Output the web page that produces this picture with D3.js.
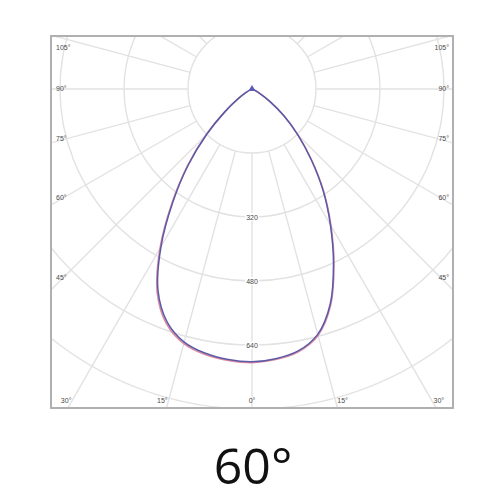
<!DOCTYPE html>
<html><head><meta charset="utf-8">
<script src="https://cdn.jsdelivr.net/npm/d3@7"></script>
<style>body{margin:0;background:#fff}svg{display:block}</style>
</head><body>
<svg id="c" width="500" height="500"></svg>
<script>
// ---- data ----
const gammaAngles = [0,5,10,15,20,25,30,35,40,45,50,55,60,65,70,75,80,85,90];
// C180 side (drawn left) and C0 side (drawn right), cd
const c0c180Left  = [682,679,671,655,620,556,455,345,248,160,88,42,16,5,1,0,0,0,0];
const c0c180Right = [680,677,665,635,572,482,392,310,230,162,104,55,22,7,2,0,0,0,0];
const c90c270Left  = [684,681,674,659,625,561,460,349,251,162,89,43,16,5,1,0,0,0,0];
const c90c270Right = [682,679,667,638,575,485,395,312,232,163,105,55,22,7,2,0,0,0,0];
const ringValues = [160,320,480,640,800];
const ringLabels = ["320","480","640"];
const spokeAngles = [0,15,30,45,60,75,90,105,120,135,150,165,180];
const sideLabelAngles = [45,60,75,90,105];
const bottomLabelAngles = [0,15,30];
const title = "60°";

// ---- layout ----
const svg = d3.select("#c");
const box = {x0:51, y0:36, x1:453, y1:408};
const cx = 252, cy = 89;
const r = d3.scaleLinear().domain([0,160]).range([0,64]);
const rad = d3.scaleLinear().domain([0,180]).range([0,Math.PI]);

svg.append("clipPath").attr("id","clip").append("rect")
  .attr("x",box.x0).attr("y",box.y0).attr("width",box.x1-box.x0).attr("height",box.y1-box.y0);

const grid = svg.append("g").attr("clip-path","url(#clip)");
grid.selectAll("circle.ring").data(ringValues).join("circle")
  .attr("cx",cx).attr("cy",cy).attr("r",d=>r(d))
  .attr("fill","none").attr("stroke","#e2e2e2").attr("stroke-width",1.4);
const spokes = [];
spokeAngles.forEach(a=>{ spokes.push(a); if(a>0 && a<180) spokes.push(-a); });
grid.selectAll("line.spoke").data(spokes).join("line")
  .attr("x1",a=>cx + Math.sin(rad(a))*r(160))
  .attr("y1",a=>cy + Math.cos(rad(a))*r(160))
  .attr("x2",a=>cx + Math.sin(rad(a))*r(2000))
  .attr("y2",a=>cy + Math.cos(rad(a))*r(2000))
  .attr("stroke","#e2e2e2").attr("stroke-width",1.4);

svg.append("rect").attr("x",box.x0).attr("y",box.y0)
  .attr("width",box.x1-box.x0).attr("height",box.y1-box.y0)
  .attr("fill","none").attr("stroke","#b0b0b0").attr("stroke-width",2);

const lblFont = {size:7, color:"#4a4a4a"};
sideLabelAngles.forEach(a=>{
  const y = Math.max(47, cy + 189/Math.tan(rad(a)) - 1);
  [-1,1].forEach(s=>{
    svg.append("text").attr("x", s<0 ? 56 : 449).attr("y", y)
      .attr("text-anchor", s<0 ? "start" : "end").attr("dominant-baseline","central")
      .attr("font-family","Liberation Sans, Arial, sans-serif").attr("font-size",lblFont.size)
      .attr("fill",lblFont.color).text(a+"°");
  });
});
bottomLabelAngles.forEach(a=>{
  const dx = 311*Math.tan(rad(a));
  const sides = a===0 ? [0] : [-1,1];
  sides.forEach(s=>{
    svg.append("text")
      .attr("x", s===0 ? cx : (s<0 ? cx - dx - 1 : cx + dx + 2))
      .attr("y", 400)
      .attr("text-anchor", s===0 ? "middle" : (s<0 ? "end" : "start"))
      .attr("dominant-baseline","central")
      .attr("font-family","Liberation Sans, Arial, sans-serif").attr("font-size",lblFont.size)
      .attr("fill",lblFont.color).text(a+"°");
  });
});

ringLabels.forEach(t=>{
  const y = cy + r(+t);
  svg.append("rect").attr("x",cx-7).attr("y",y-4).attr("width",14).attr("height",8).attr("fill","#fff");
  svg.append("text").attr("x",cx).attr("y",y).attr("text-anchor","middle")
    .attr("dominant-baseline","central")
    .attr("font-family","Liberation Sans, Arial, sans-serif").attr("font-size",7)
    .attr("fill",lblFont.color).text(t);
});

function curvePoints(left, right){
  const pts = [];
  for(let i=gammaAngles.length-1;i>=0;i--) pts.push([-gammaAngles[i], left[i]]);
  for(let i=1;i<gammaAngles.length;i++) pts.push([gammaAngles[i], right[i]]);
  return pts;
}
const line = d3.lineRadial()
  .angle(d=>Math.PI - rad(d[0]))
  .radius(d=>r(d[1]))
  .curve(d3.curveCatmullRom.alpha(0.5));
const plot = svg.append("g").attr("transform",`translate(${cx},${cy})`);
plot.append("path").datum(curvePoints(c90c270Left,c90c270Right))
  .attr("d",line).attr("fill","none").attr("stroke","#e08aa0").attr("stroke-width",1.6);
plot.append("path").datum(curvePoints(c0c180Left,c0c180Right))
  .attr("d",line).attr("fill","none").attr("stroke","#5a5aa8").attr("stroke-width",1.5);
plot.append("path").attr("d",d3.symbol(d3.symbolTriangle,22)())
  .attr("fill","#5a5ab8");

svg.append("text").attr("x",253).attr("y",484).attr("text-anchor","middle")
  .attr("font-family","Open Sans, sans-serif").attr("font-size",50)
  .attr("fill","#111").text(title);
</script>
</body></html>
